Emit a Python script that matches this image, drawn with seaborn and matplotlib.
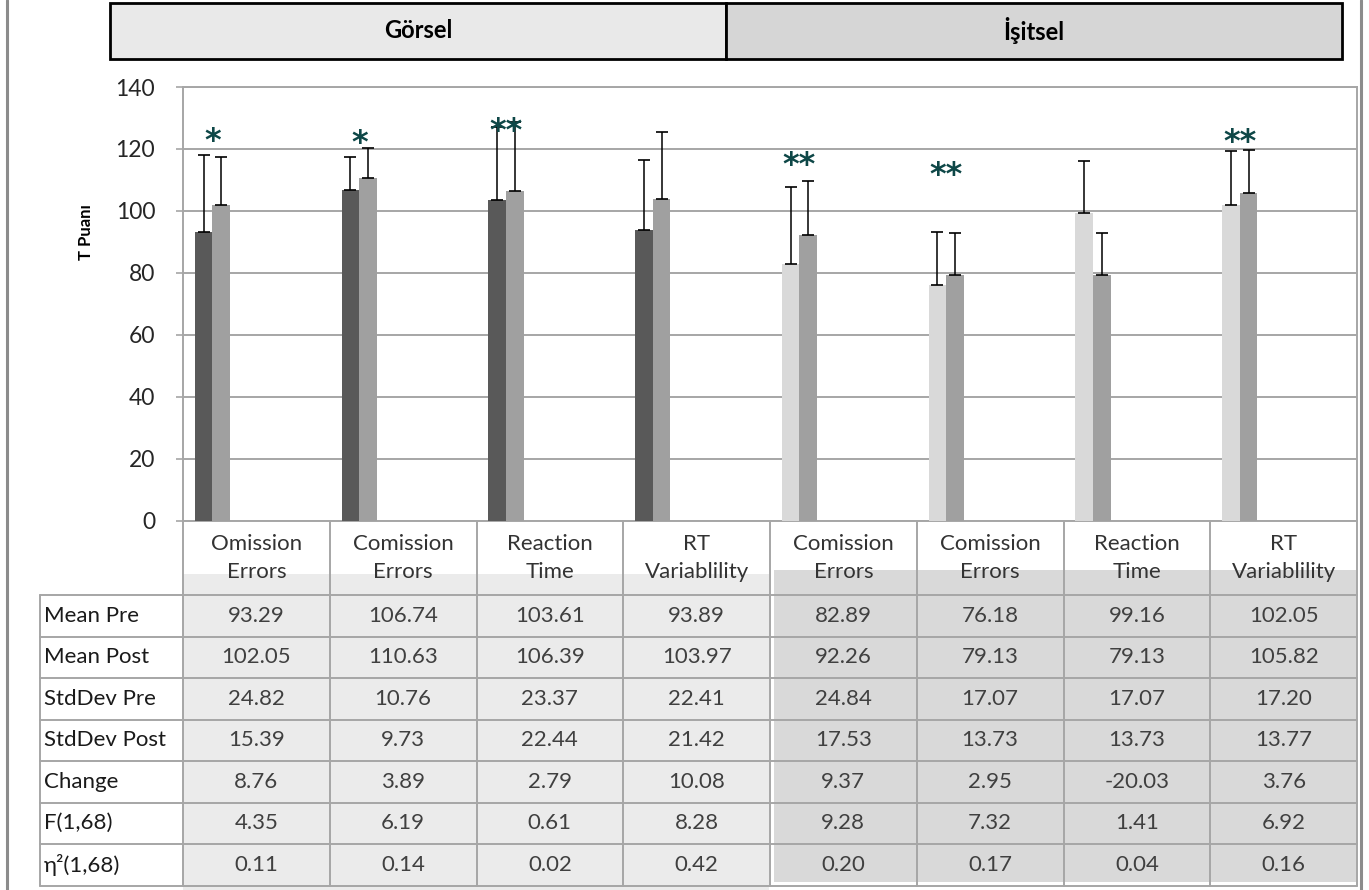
import matplotlib
matplotlib.use("Agg")
import matplotlib.pyplot as plt
import matplotlib.patches as mpatches
from matplotlib.lines import Line2D
from matplotlib.transforms import ScaledTranslation
import numpy as np
import pandas as pd
import seaborn as sns

# --- data ---
tests = ["Omission\nErrors", "Comission\nErrors", "Reaction\nTime", "RT\nVariablility",
         "Comission\nErrors", "Comission\nErrors", "Reaction\nTime", "RT\nVariablility"]
modality = ["Görsel", "Görsel", "Görsel", "Görsel", "İşitsel", "İşitsel", "İşitsel", "İşitsel"]
mean_pre = [93.29, 106.74, 103.61, 93.89, 82.89, 76.18, 99.16, 102.05]
mean_post = [102.05, 110.63, 106.39, 103.97, 92.26, 79.13, 79.13, 105.82]
sd_pre = [24.82, 10.76, 23.37, 22.41, 24.84, 17.07, 17.07, 17.20]
sd_post = [15.39, 9.73, 22.44, 21.42, 17.53, 13.73, 13.73, 13.77]
change = [8.76, 3.89, 2.79, 10.08, 9.37, 2.95, -20.03, 3.76]
f_val = [4.35, 6.19, 0.61, 8.28, 9.28, 7.32, 1.41, 6.92]
eta2 = [0.11, 0.14, 0.02, 0.42, 0.20, 0.17, 0.04, 0.16]
sig = ["*", "*", "**", "", "**", "**", "", "**"]
row_names = ["Mean Pre", "Mean Post", "StdDev Pre", "StdDev Post", "Change", "F(1,68)", "η²(1,68)"]
groups = ["Görsel", "İşitsel"]

# layout (pixel positions in the 1369x890 picture)
star_height = [125.7, 125.0, 128.9, None, 117.8, 114.6, None, 125.4]
W, H = 1369, 890


def fx(x):
    return x / W


def fy(y):
    return 1 - y / H


keys = [f"{m}-{i}" for i, m in enumerate(modality)]
df = pd.DataFrame({
    "test": keys * 2,
    "phase": ["Pre"] * 8 + ["Post"] * 8,
    "score": mean_pre + mean_post,
})

sns.set_style("white")
plt.rcParams["font.family"] = ["Lato", "DejaVu Sans"]

fig = plt.figure(figsize=(W / 100, H / 100), dpi=100)

# background shading behind the data table
fig.add_artist(mpatches.Rectangle((fx(183), fy(890)), fx(769) - fx(183), fy(574) - fy(890),
                                  transform=fig.transFigure, color="#ebebeb", lw=0, zorder=0))
fig.add_artist(mpatches.Rectangle((fx(774), fy(882)), fx(1356) - fx(774), fy(570) - fy(882),
                                  transform=fig.transFigure, color="#d9d9d9", lw=0, zorder=0))

ax = fig.add_axes([fx(183), fy(520.5), fx(1357) - fx(183), fy(87) - fy(520.5)])
sns.barplot(data=df, x="test", y="score", hue="phase", order=keys, hue_order=["Pre", "Post"],
            palette=["#595959", "#a0a0a0"], width=0.24, errorbar=None, legend=False,
            saturation=1, linewidth=0, ax=ax, zorder=3)

# işitsel pre bars are light grey
for bar, m in zip(ax.containers[0], modality):
    if m == "İşitsel":
        bar.set_facecolor("#d9d9d9")

# upper-only error bars
for cont, sds in zip(ax.containers, [sd_pre, sd_post]):
    xs = [b.get_x() + b.get_width() / 2 for b in cont]
    hs = [b.get_height() for b in cont]
    ax.errorbar(xs, hs, yerr=[np.zeros(len(sds)), sds], fmt="none", ecolor="black",
                elinewidth=1.1, capsize=4, capthick=1.2, zorder=4)

# significance stars
fs = 23
off = ScaledTranslation(0, -0.58 * fs / 72, fig.dpi_scale_trans)
for i, (s, yh) in enumerate(zip(sig, star_height)):
    if s:
        ax.text(i, yh, s, ha="center", va="baseline", fontsize=fs, fontweight="bold",
                color="#0e4747", family="DejaVu Sans", transform=ax.transData + off, zorder=5)

ax.set_xlim(-0.201, 7.799)
ax.set_ylim(0, 140)
ax.set_yticks(range(0, 141, 20))
ax.set_xticks([])
ax.set_xlabel("")
ax.set_ylabel("")
ax.grid(axis="y", color="#a6a6a6", lw=1.4, zorder=0)
ax.set_axisbelow(True)
for sp in ax.spines.values():
    sp.set_color("#a6a6a6")
    sp.set_linewidth(1.4)
ax.tick_params(axis="y", left=True, length=5, width=1.2, color="#a6a6a6",
               labelsize=16.5, labelcolor="#262626", pad=15)

fig.text(fx(86), fy(232), "T Puanı", rotation=90, ha="center", va="center",
         fontsize=12, fontweight="bold", color="black")

# header boxes
box_edges = [110, 726, 1342]
box_fill = ["#e9e9e9", "#d6d6d6"]
for g, (x0, x1), c in zip(groups, zip(box_edges[:-1], box_edges[1:]), box_fill):
    fig.add_artist(mpatches.Rectangle((fx(x0), fy(59)), fx(x1) - fx(x0), fy(3) - fy(59),
                                      transform=fig.transFigure, facecolor=c,
                                      edgecolor="black", lw=2))
    fig.text(fx((x0 + x1) / 2), fy(31), g, ha="center", va="center",
             fontsize=17, fontweight="bold", color="black")

# data table
col_x = [183 + k * 146.75 for k in range(9)]
row_y = [595 + r * 41.5 for r in range(8)]
grid_c = "#a6a6a6"
for x in col_x:
    fig.add_artist(Line2D([fx(x), fx(x)], [fy(520.5), fy(row_y[-1])], color=grid_c,
                          lw=1.4, transform=fig.transFigure))
fig.add_artist(Line2D([fx(40), fx(40)], [fy(row_y[0]), fy(row_y[-1])], color=grid_c,
                      lw=1.4, transform=fig.transFigure))
for y in row_y:
    fig.add_artist(Line2D([fx(40), fx(col_x[-1])], [fy(y), fy(y)], color=grid_c,
                          lw=1.4, transform=fig.transFigure))

for k, t in enumerate(tests):
    cx = (col_x[k] + col_x[k + 1]) / 2
    fig.text(fx(cx), fy(558), t, ha="center", va="center", fontsize=16,
             color="#333333", linespacing=1.45)

rows = [mean_pre, mean_post, sd_pre, sd_post, change, f_val, eta2]
for r, (name, vals) in enumerate(zip(row_names, rows)):
    cy = (row_y[r] + row_y[r + 1]) / 2
    fig.text(fx(44), fy(cy), name, ha="left", va="center", fontsize=16, color="#1a1a1a")
    for k, v in enumerate(vals):
        cx = (col_x[k] + col_x[k + 1]) / 2
        fig.text(fx(cx), fy(cy), f"{v:.2f}", ha="center", va="center", fontsize=16,
                 color="#404040")

# outer frame lines
for x in [7, 1361]:
    fig.add_artist(Line2D([fx(x), fx(x)], [0, 1], color="#8c8c8c", lw=2.2,
                          transform=fig.transFigure))

fig.savefig("out.png", dpi=100)
